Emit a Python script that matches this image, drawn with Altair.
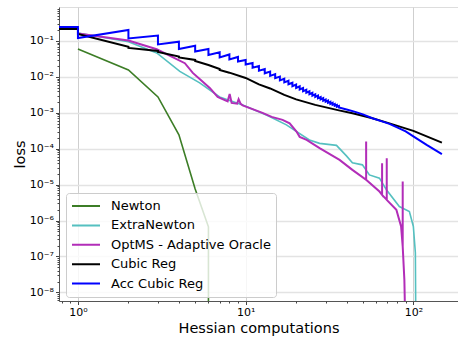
import altair as alt
import pandas as pd

methods = ["Newton", "ExtraNewton", "OptMS - Adaptive Oracle", "Cubic Reg", "Acc Cubic Reg"]
colors = ["#3c7d26", "#55c0c0", "#b22db8", "#000000", "#0000ff"]
widths = [1.6, 1.6, 2.0, 2.0, 2.0]

# Newton
newton_x = [1, 2, 3, 4, 5, 6, 6]
newton_loss = [0.0599, 0.0156, 0.00277, 0.000243, 7.6e-6, 6.7e-7, 1e-12]

# ExtraNewton
extra_x = [1, 2, 2.95, 4.05, 5.32, 7.0, 9.6, 13.3, 17.5, 24.0, 27.6, 32.9, 34.8, 39.9,
           43.3, 49.7, 54.7, 62.8, 69.1, 82.5, 94.7, 100, 102.8, 103.8]
extra_loss = [0.167, 0.0956, 0.0464, 0.01418, 0.00679, 0.00277, 0.00166, 0.000874,
              0.000461, 0.000176, 0.000141, 0.000128, 0.000124, 6.32e-5, 4.04e-5,
              3.56e-5, 1.87e-5, 1.52e-5, 7.17e-6, 2.46e-6, 1.79e-6, 6.84e-7, 1.27e-7, 1e-10]

# OptMS - Adaptive Oracle
opt_x = [1, 2, 2.95, 4.34, 4.84, 5.32, 6.11, 6.81, 7.81, 8.03, 8.25, 8.9, 9.08, 9.34, 9.6,
         12.6, 14.3, 16.6, 18.3, 20.1, 21.0, 23.1, 27.6, 36.3, 43.3, 52.3, 52.3, 52.3,
         62.8, 65.1, 65.1, 65.1, 69.4, 69.4, 69.4, 79.2, 84.5, 86.4, 86.4, 86.4, 88.4, 90.5]
opt_loss = [0.162, 0.103, 0.0588, 0.024, 0.0129, 0.00877, 0.00493, 0.00277, 0.00208,
            0.00336, 0.00189, 0.0018, 0.00239, 0.00177, 0.00161, 0.000993, 0.000769,
            0.000635, 0.000507, 0.0003, 0.000214, 0.000176, 0.000104, 4.9e-5, 2.58e-5,
            1.36e-5, 1.58e-4, 1.36e-5, 6.43e-6, 5.2e-6, 3.96e-5, 5.2e-6, 3.78e-6, 5.46e-5,
            3.78e-6, 1.99e-6, 6.84e-7, 1.9e-7, 1.22e-5, 1.9e-7, 2.25e-8, 1e-10]

# Cubic Reg
cubic_x = [0.5, 1, 1, 2, 2, 3, 3, 4, 4, 5, 5, 6, 7, 7, 8, 10, 12, 14, 17, 20, 26, 36,
           44, 57, 72, 100, 148]
cubic_loss = [0.216, 0.216, 0.157, 0.0694, 0.0639, 0.0527, 0.0494, 0.0366, 0.0348,
              0.0296, 0.0278, 0.0215, 0.0166, 0.0156, 0.0131, 0.00935, 0.00617, 0.00477,
              0.00315, 0.00236, 0.00166, 0.00117, 0.000962, 0.000708, 0.000507,
              0.000314, 0.000148]

# Acc Cubic Reg: sawtooth (value before / after each Hessian computation), then tail
acc_start_x = 0.5
acc_k = list(range(1, 37))
acc_hi = [0.245, 0.202, 0.142, 0.0956, 0.0740, 0.0599, 0.0485, 0.0421, 0.0359, 0.0296,
          0.0243, 0.0199, 0.0166, 0.0140, 0.0119, 0.0102, 0.00888, 0.00779, 0.00688,
          0.00611, 0.00546, 0.00488, 0.00439, 0.00398, 0.00360, 0.00328, 0.00301,
          0.00276, 0.00255, 0.00235, 0.00218, 0.00203, 0.00190, 0.00177, 0.00166, 0.00156]
acc_lo = [0.121, 0.1175, 0.0799, 0.0599, 0.0511, 0.0408, 0.0348, 0.0306, 0.0269, 0.0222,
          0.0179, 0.0148, 0.0126, 0.0107, 0.00923, 0.00802, 0.00705, 0.00622, 0.00553,
          0.00494, 0.00445, 0.00400, 0.00362, 0.00330, 0.00301, 0.00276, 0.00255,
          0.00235, 0.00218, 0.00203, 0.00190, 0.00177, 0.00167, 0.00157, 0.00148, 0.00140]
acc_tail_x = [40, 45, 50, 57, 65, 72, 80, 90, 100, 120, 148]
acc_tail_loss = [0.00124, 0.00106, 0.000903, 0.000708, 0.000577, 0.000491, 0.000393,
                 0.000304, 0.000221, 0.000128, 0.0000705]

acc_x = [acc_start_x]
acc_loss = [acc_hi[0]]
for k, hi, lo in zip(acc_k, acc_hi, acc_lo):
    acc_x += [k, k]
    acc_loss += [hi, lo]
acc_x += acc_tail_x
acc_loss += acc_tail_loss


def frame(name, xs, ys):
    return pd.DataFrame({"hessian": xs, "loss": ys, "method": name,
                         "idx": list(range(len(xs)))})


series = {
    "Newton": frame("Newton", newton_x, newton_loss),
    "ExtraNewton": frame("ExtraNewton", extra_x, extra_loss),
    "OptMS - Adaptive Oracle": frame("OptMS - Adaptive Oracle", opt_x, opt_loss),
    "Cubic Reg": frame("Cubic Reg", cubic_x, cubic_loss),
    "Acc Cubic Reg": frame("Acc Cubic Reg", acc_x, acc_loss),
}

FONT = "DejaVu Sans"
x_scale = alt.Scale(type="log", domain=[0.771, 184.6], nice=False)
y_scale = alt.Scale(type="log", domain=[5.77e-9, 0.882], nice=False)

sup = "['\u2070','\u00b9','\u00b2','\u00b3','\u2074','\u2075','\u2076','\u2077','\u2078','\u2079']"
exp_expr = "round(log(datum.value)/LN10)"
lab = ("'10' + (" + exp_expr + " < 0 ? '\u207b' : '') + " + sup + "[abs(" + exp_expr + ")]")

x_major = alt.Axis(orient="bottom", values=[1, 10, 100], labelExpr=lab,
                   title="Hessian computations", titleFont=FONT, titleFontSize=14.5,
                   titleFontWeight="normal", titleColor="#000000", titlePadding=4,
                   labelFont=FONT, labelFontSize=11, labelColor="#000000",
                   labelPadding=2, labelOverlap=False, labelFlush=False,
                   tickSize=3.5, tickColor="#444444", domainColor="#555555",
                   grid=True, gridColor="#cfcfcf", gridWidth=1)
y_major = alt.Axis(orient="left", values=[1e-8, 1e-7, 1e-6, 1e-5, 1e-4, 1e-3, 1e-2, 1e-1],
                   labelExpr=lab, title="loss", titleFont=FONT, titleFontSize=14.5,
                   titleFontWeight="normal", titleColor="#000000", titlePadding=2,
                   labelFont=FONT, labelFontSize=11, labelColor="#000000",
                   labelPadding=2, labelOverlap=False, labelFlush=False,
                   tickSize=3.5, tickColor="#444444", domainColor="#555555",
                   grid=True, gridColor="#e3e3e3", gridWidth=1.5)

x_minor_vals = [0.8, 0.9] + [m for m in range(2, 10)] + [10 * m for m in range(2, 10)]
y_minor_vals = []
for e in range(-9, 0):
    for m in range(2, 10):
        v = m * 10.0 ** e
        if 5.77e-9 <= v <= 0.882:
            y_minor_vals.append(v)

x_minor = alt.Axis(orient="bottom", values=x_minor_vals, labels=False, grid=False,
                   domain=False, tickSize=2, tickColor="#444444", title=None)
y_minor = alt.Axis(orient="left", values=y_minor_vals, labels=False, grid=False,
                   domain=False, tickSize=2, tickColor="#444444", title=None)

legend = alt.Legend(title=None, orient="none", legendX=7, legendY=186,
                    symbolType="stroke", symbolSize=784, symbolStrokeWidth=2,
                    labelFont=FONT, labelFontSize=13, labelColor="#000000",
                    labelOffset=10, fillColor="rgba(255,255,255,0.8)",
                    strokeColor="#cccccc", cornerRadius=3, padding=5,
                    rowPadding=3.4, clipHeight=16, zindex=1)

color = alt.Color("method:N", scale=alt.Scale(domain=methods, range=colors),
                  legend=legend)

layers = []
for i, name in enumerate(methods):
    layers.append(
        alt.Chart(series[name]).mark_line(clip=True, strokeWidth=widths[i]).encode(
            x=alt.X("hessian:Q", scale=x_scale, axis=x_major if i == 0 else None),
            y=alt.Y("loss:Q", scale=y_scale, axis=y_major if i == 0 else None),
            color=color,
            order=alt.Order("idx:Q"),
        )
    )

minor = alt.Chart(series["Newton"]).mark_line(opacity=0, clip=True).encode(
    x=alt.X("hessian:Q", scale=x_scale, axis=x_minor),
    y=alt.Y("loss:Q", scale=y_scale, axis=y_minor),
)

chart = (
    alt.layer(*layers, minor)
    .resolve_axis(x="independent", y="independent")
    .properties(width=399, height=294, autosize=alt.AutoSizeParams(type="none"),
                padding={"left": 59, "top": 7, "right": 0, "bottom": 38},
                background="white")
    .configure_view(stroke="#777777", strokeWidth=1)
    .configure(font=FONT)
)

chart.save("out.html", embed_options={"renderer": "svg", "actions": False})
